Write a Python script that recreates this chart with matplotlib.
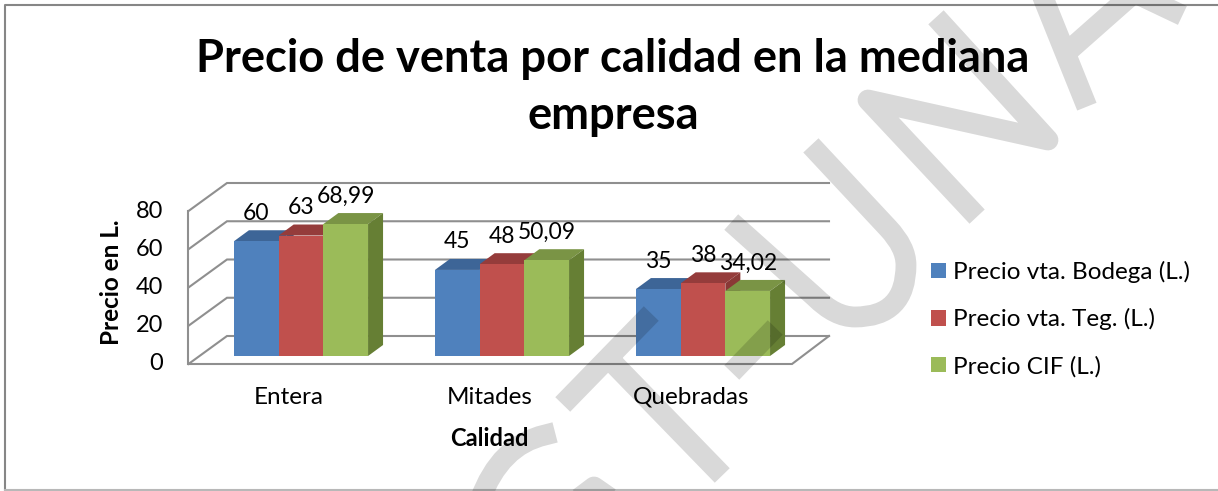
import matplotlib
matplotlib.use("Agg")
import matplotlib.pyplot as plt
from matplotlib.patches import Patch, Polygon, PathPatch
from matplotlib.path import Path

plt.rcParams['font.family'] = ['Lato', 'DejaVu Sans']

# Chart data
categories = ["Entera", "Mitades", "Quebradas"]
series_names = ["Precio vta. Bodega (L.)", "Precio vta. Teg. (L.)", "Precio CIF (L.)"]
bodega = [60, 45, 35]
teg = [63, 48, 38]
cif = [68.99, 50.09, 34.02]
label_bodega = ["60", "45", "35"]
label_teg = ["63", "48", "38"]
label_cif = ["68,99", "50,09", "34,02"]
y_ticks = [0, 20, 40, 60, 80]

front_colors = ["#4f81bd", "#c0504d", "#9bbb59"]
top_colors = ["#3d6597", "#953c3b", "#7a9445"]
side_colors = ["#355a88", "#8a3836", "#667f34"]

W, H = 1218, 491
fig = plt.figure(figsize=(W / 100, H / 100), dpi=100)

# one axes over the whole figure, 201 px per category and 1.9125 px per unit
px_x = 201.0
px_y = 1.9125
x0 = 301.0
y0 = 356.0
ax = fig.add_axes([0, 0, 1, 1])
ax.set_xlim((0 - x0) / px_x, (W - x0) / px_x)
ax.set_ylim((y0 - H) / px_y, y0 / px_y)
ax.axis("off")


def dx(p):
    return p / px_x


def dy(p):
    return p / px_y


# walls and floor
grid_color = "#8f8f8f"
left_front = dx(188.5 - x0)
left_back = dx(227 - x0)
right_front = dx(792 - x0)
right_back = dx(829 - x0)
wall_drop = dy(8)
wall_rise = dy(20)
for v in y_ticks:
    ax.plot([left_front, left_back, right_back],
            [v - wall_drop, v + wall_rise, v + wall_rise],
            color=grid_color, lw=1.5, solid_joinstyle="miter", zorder=1)
ax.plot([left_front, left_front], [-wall_drop, y_ticks[-1] - wall_drop],
        color=grid_color, lw=1.5, zorder=1)
ax.plot([left_front, right_front, right_back],
        [-wall_drop, -wall_drop, wall_rise],
        color=grid_color, lw=1.5, solid_joinstyle="miter", zorder=1)

for v in y_ticks:
    ax.text(dx(163 - x0), v - wall_drop, str(v), ha="right", va="center", fontsize=17)

# bars
bar_w = 44.7 / px_x
depth_x = dx(15)
depth_y = dy(11)
all_values = [bodega, teg, cif]
all_labels = [label_bodega, label_teg, label_cif]
for s, values in enumerate(all_values):
    z = 3 + s
    for i, v in enumerate(values):
        x = i + (s - 1) * bar_w
        l, r = x - bar_w / 2, x + bar_w / 2
        ax.add_patch(Polygon([(l, v), (r, v), (r + depth_x, v + depth_y), (l + depth_x, v + depth_y)],
                             closed=True, fc=top_colors[s], ec="none", zorder=z))
        ax.add_patch(Polygon([(r, 0), (r + depth_x, depth_y), (r + depth_x, v + depth_y), (r, v)],
                             closed=True, fc=side_colors[s], ec="none", zorder=z))
    ax.bar([i + (s - 1) * bar_w for i in range(len(values))], values, width=bar_w,
           color=front_colors[s], zorder=z + 0.5)
    for i, v in enumerate(values):
        ax.text(i + (s - 1) * bar_w, v + dy(28), all_labels[s][i],
                ha="center", va="center", fontsize=16.5, zorder=10)

# category labels and axis titles
for i, c in enumerate(categories):
    ax.text(i - dx(12), dy(y0 - 397), c, ha="center", va="center", fontsize=17.5)
ax.text(dx(489 - x0), dy(y0 - 438), "Calidad", ha="center", va="center",
        fontsize=17, fontweight="bold")
ax.text(dx(112 - x0), dy(y0 - 282), "Precio en L.", ha="center", va="center",
        rotation=90, fontsize=17.5, fontweight="bold")

fig.text(613 / W, 1 - 87.5 / H, "Precio de venta por calidad en la mediana\nempresa",
         ha="center", va="center", ma="center", fontsize=32.6, fontweight="bold", linespacing=1.46)

handles = [Patch(fc=c, ec="none") for c in front_colors]
leg = ax.legend(handles, series_names, loc="center left",
                bbox_to_anchor=(909 / W, 1 - 319 / H), bbox_transform=fig.transFigure,
                frameon=False, fontsize=17.5, labelspacing=1.04,
                handlelength=0.62, handleheight=0.62, handletextpad=0.3)

# outer border and watermark, in pixel coordinates
over = fig.add_axes([0, 0, 1, 1], facecolor="none")
over.set_xlim(0, W)
over.set_ylim(H, 0)
over.axis("off")
over.plot([5, 5, W], [490, 4.5, 4.5], color="#868686", lw=1.5)
over.plot([5, W], [490, 490], color="#b8b8b8", lw=1.5)

M, L, C = Path.MOVETO, Path.LINETO, Path.CURVE3
strokes = [
    # N
    ([(970, 209), (868, 100), (1048, 140), (943, 25)], [M, L, L, L]),
    # U
    ([(818, 153), (888, 228), (906, 247), (906, 265), (906, 317), (855, 317), (835, 317), (815, 297), (739, 229)],
     [M, L, C, C, C, C, C, C, L]),
    # A
    ([(1040, -10), (1083, 97)], [M, L]),
    ([(1135, -8), (1075, 45)], [M, L]),
    ([(1133, -8), (1173, 11)], [M, L]),
    # T
    ([(644, 321), (570, 397)], [M, L]),
    ([(615, 365), (715, 468)], [M, L]),
    ([(739, 365), (768, 335)], [M, L]),
    # C
    ([(545, 435), (500, 445), (480, 500)], [M, C, C]),
    ([(570, 505), (594, 487), (620, 505)], [M, L, L]),
]
verts, codes = [], []
for v, c in strokes:
    verts += v
    codes += c
over.add_patch(PathPatch(Path(verts, codes), fc="none", ec=(0, 0, 0, 0.15), lw=15,
                         capstyle="projecting", joinstyle="round", zorder=20))

fig.savefig("out.png", dpi=100)
